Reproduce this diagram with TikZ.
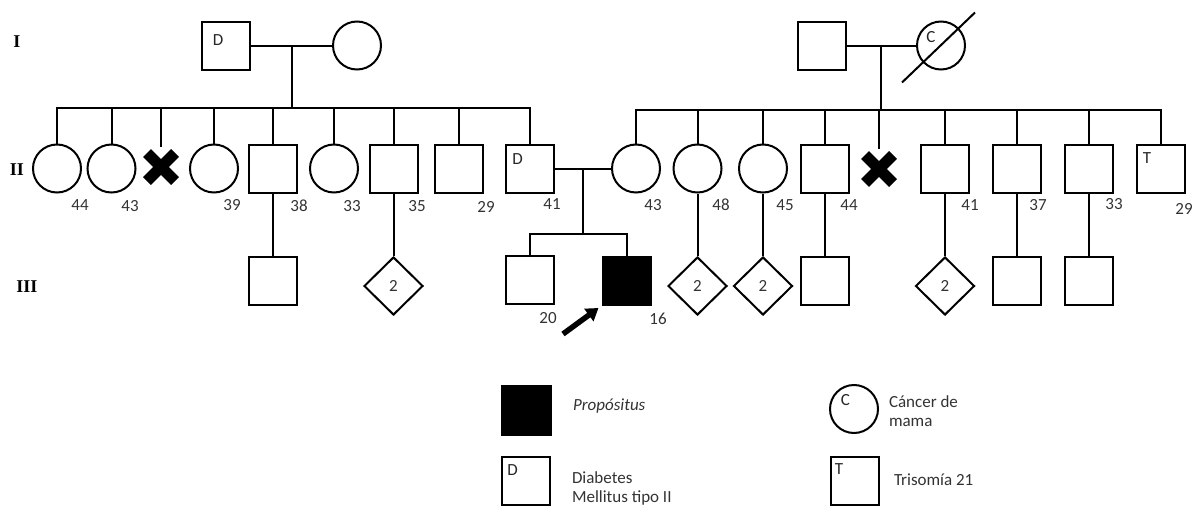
\documentclass[tikz,border=0pt]{standalone}
\usepackage{fontspec}
\setmainfont{Carlito}
\newfontfamily\genfont{Liberation Serif}
\usetikzlibrary{shapes.geometric,arrows.meta,calc}
\newcommand{\txtsize}{\fontsize{17}{19}\selectfont}
\tikzset{male/.style = {draw,rectangle,minimum size=48pt,inner sep=0pt}}
\tikzset{female/.style = {draw,circle,minimum size=48pt,inner sep=0pt}}
\tikzset{unk/.style = {draw,diamond,minimum width=59pt,minimum height=58pt,inner sep=0pt,font=\txtsize,text=black!80}}
\tikzset{dead/.style = {minimum size=38pt,inner sep=0pt,path picture={
  \draw[line width=11pt] ([shift={(-14pt,-14pt)}]path picture bounding box.center) -- ([shift={(14pt,14pt)}]path picture bounding box.center);
  \draw[line width=11pt] ([shift={(-14pt,14pt)}]path picture bounding box.center) -- ([shift={(14pt,-14pt)}]path picture bounding box.center);}}}
\tikzset{prop/.style = {male,fill=black}}
\tikzset{age/.style = {inner sep=0pt,font=\txtsize,text=black!80}}
\tikzset{tag/.style = {inner sep=0pt,font=\txtsize,text=black!85}}
\tikzset{gen/.style = {inner sep=0pt,font=\genfont\bfseries\fontsize{18}{18}\selectfont}}
\tikzset{key/.style = {anchor=west,align=left,inner sep=0pt,font=\txtsize,text=black!80}}
\tikzset{parrow/.style = {line width=5.5pt,-{Triangle[length=12pt,width=15pt]}}}

\begin{document}
\begin{tikzpicture}[x=1pt,y=-1pt,line width=2pt]
\useasboundingbox (0,0) rectangle (1192,506);

% generations
\node[gen] (g1) at (17,42) {I};
\node[gen] (g2) at (17,170) {II};
\node[gen] (g3) at (27,287) {III};

% generation I
\node[male] (gf1) at (226,45.5) {};
\node[female] (gm1) at (357,45.5) {};
\node[male] (gf2) at (821.5,45.5) {};
\node[female] (gm2) at (941,45.5) {};
\node[tag] (gf1t) at ([shift={(-8,-5)}]gf1.center) {D};
\node[tag] (gm2t) at ([shift={(-10,-8)}]gm2.center) {C};
\coordinate (m1) at ($(gf1.east)!0.5!(gm1.west)$);
\coordinate (m2) at ($(gf2.east)!0.5!(gm2.west)$);
\coordinate (sib1) at (m1 |- 0,108);
\coordinate (sib2) at (m2 |- 0,110);
\coordinate (sl1) at ([shift={(-39,37)}]gm2.center);
\coordinate (sl2) at ([shift={(34,-33)}]gm2.center);

% generation II
\node[female] (a1) at (57,168.5) {};
\node[female] (a2) at (111.5,168.5) {};
\node[dead] (a3) at (161,167) {};
\node[female] (a4) at (214,168.5) {};
\node[male] (a5) at (273,168.5) {};
\node[female] (a6) at (334,168.5) {};
\node[male] (a7) at (393.5,168.5) {};
\node[male] (a8) at (458.5,168.5) {};
\node[male] (a9) at (530,168.5) {};
\node[female] (c1) at (636,168.5) {};
\node[female] (c2) at (697.5,168.5) {};
\node[female] (c3) at (763,168.5) {};
\node[male] (c4) at (824.5,168.5) {};
\node[dead] (c5) at (879,169) {};
\node[male] (c6) at (945,168.5) {};
\node[male] (c7) at (1016.5,168.5) {};
\node[male] (c8) at (1088.5,168.5) {};
\node[male] (c9) at (1161,168.5) {};
\node[tag] (a9t) at ([shift={(-12.5,-9)}]a9.center) {D};
\node[tag] (c9t) at ([shift={(-14,-10)}]c9.center) {T};
\coordinate (m3) at ($(a9.east)!0.5!(c1.west)$);
\coordinate (sib3) at (m3 |- 0,234);

\node[age] (n1) at (80,205) {44};
\node[age] (n2) at (130,206) {43};
\node[age] (n3) at (232,205) {39};
\node[age] (n4) at (299,206) {38};
\node[age] (n5) at (352,206) {33};
\node[age] (n6) at (417,206) {35};
\node[age] (n7) at (486,207) {29};
\node[age] (n8) at (552,204) {41};
\node[age] (n9) at (653,205) {43};
\node[age] (n10) at (721,205) {48};
\node[age] (n11) at (785,205) {45};
\node[age] (n12) at (849,205) {44};
\node[age] (n13) at (970,205) {41};
\node[age] (n14) at (1038,205) {37};
\node[age] (n15) at (1114,204) {33};
\node[age] (n16) at (1184,209) {29};

% generation III
\node[male] (d1) at (273,281) {};
\node[unk] (d2) at (393.5,286) {2};
\node[male] (d3) at (529.5,280) {};
\node[prop] (d4) at (626.5,281) {};
\node[unk] (d5) at (697.5,286) {2};
\node[unk] (d6) at (763,286) {2};
\node[male] (d7) at (824.5,281) {};
\node[unk] (d8) at (945,286) {2};
\node[male] (d9) at (1016.5,281) {};
\node[male] (d10) at (1088.5,281) {};
\node[age] (n17) at (548,318) {20};
\node[age] (n18) at (658,319) {16};
\coordinate (ptail) at (563,334);

% legend
\node[prop,minimum size=49pt] (k1) at (526,410) {};
\node[key,font=\txtsize\itshape] (k1l) at (572,406) {Propósitus};
\node[male] (k2) at (526,481) {};
\node[tag] (k2t) at ([shift={(-13.5,-10.5)}]k2.center) {D};
\node[key] (k2l) at (571,488) {Diabetes\\Mellitus tipo II};
\node[female] (k3) at (854,409) {};
\node[tag] (k3t) at ([shift={(-8.5,-9)}]k3.center) {C};
\node[key] (k3l) at (888,411) {Cáncer de\\mama};
\node[male] (k4) at (854.5,481) {};
\node[tag] (k4t) at ([shift={(-15.5,-11.5)}]k4.center) {T};
\node[key] (k4l) at (893,480) {Trisomía 21};

\draw (gf1) -- (gm1);
\draw (gf2) -- (gm2);
\draw (a9) -- (c1);
\draw (sl1) -- (sl2);
\draw (m1) -- (sib1);
\draw (m2) -- (sib2);
\draw (m3) -- (sib3);

\foreach \c in {a1,a2,a3,a4,a5,a6,a7,a8,a9}
  \draw (\c.north) |- (sib1);
\foreach \c in {c1,c2,c3,c4,c5,c6,c7,c8,c9}
  \draw (\c.north) |- (sib2);
\foreach \c in {d3,d4}
  \draw (\c.north) |- (sib3);

\foreach \a/\b in {a5/d1,a7/d2,c2/d5,c3/d6,c4/d7,c6/d8,c7/d9,c8/d10}
  \draw (\a.south) -- (\b.north);

\draw[parrow] (ptail) -- ([shift={(-3,2)}]d4.south west);

\end{tikzpicture}
\end{document}
